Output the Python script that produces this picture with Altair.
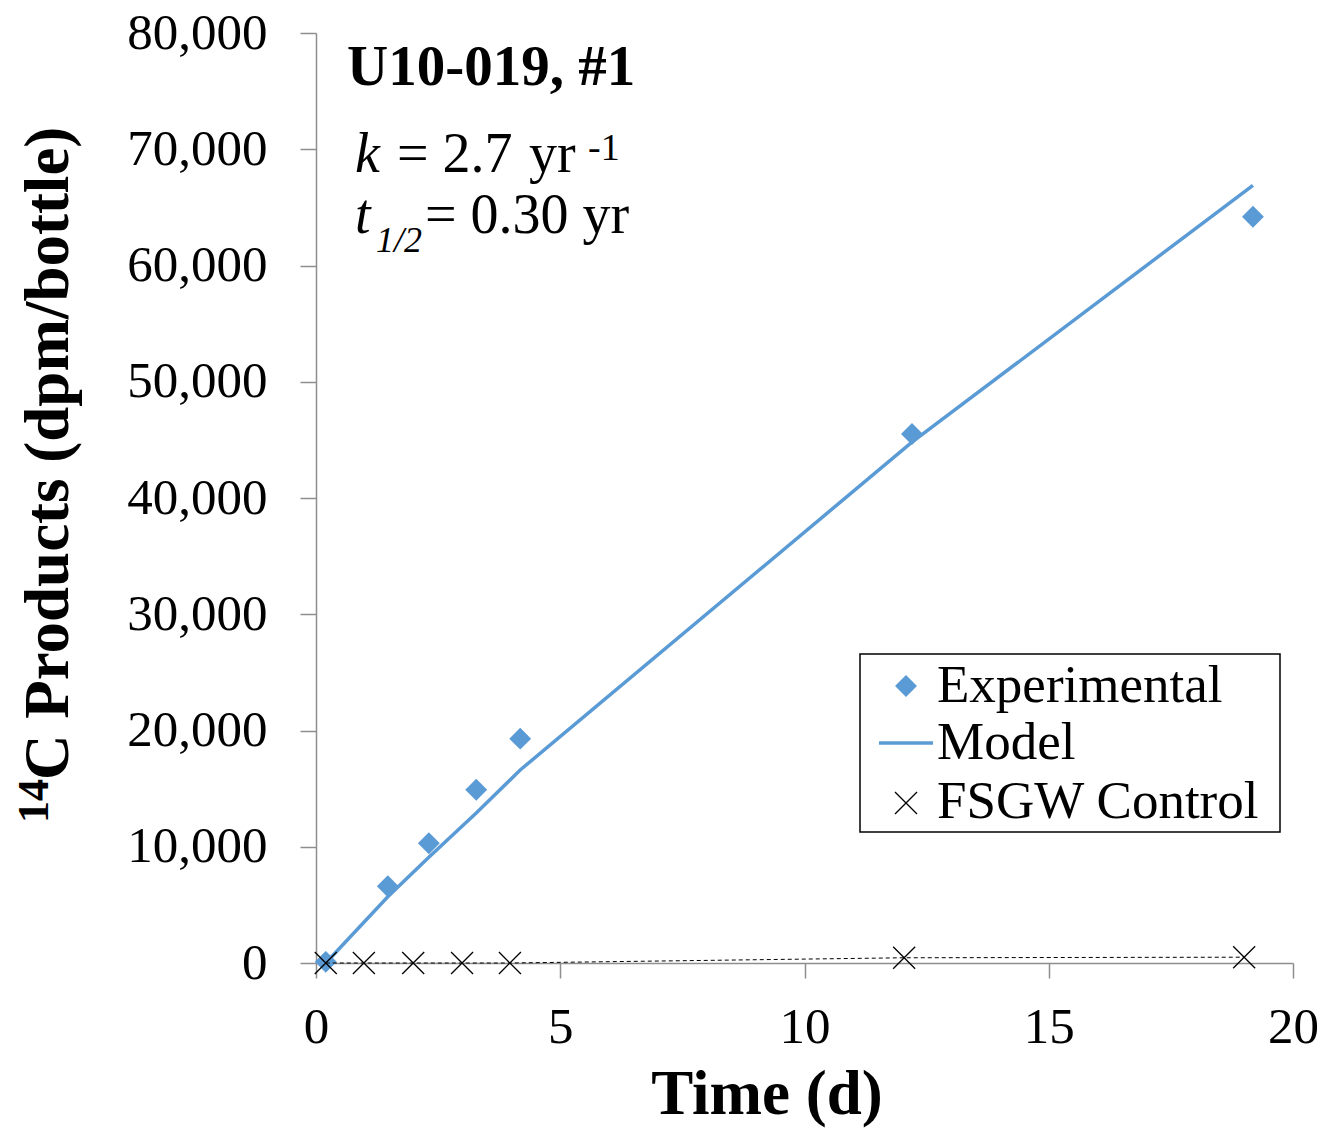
import altair as alt
import pandas as pd

# Sampling times (d) and measured 14C products (dpm/bottle)
exp_time = [0.2, 1.47, 2.31, 3.28, 4.18, 12.2, 19.18]
exp_dpm = [100, 6600, 10300, 14900, 19300, 45500, 64200]

# First-order model evaluated at the sampling times
model_time = [0.2, 1.47, 2.31, 3.28, 4.18, 12.2, 19.18]
model_dpm = [0, 5700, 9100, 12900, 16600, 44800, 66900]

# Filter-sterilized groundwater control
ctrl_time = [0.2, 0.98, 1.99, 2.99, 3.97, 12.04, 19.0]
ctrl_dpm = [0, 0, 0, 0, 0, 450, 500]

x_ticks = [0, 5, 10, 15, 20]
y_ticks = [0, 10000, 20000, 30000, 40000, 50000, 60000, 70000, 80000]

BLUE = "#5B9BD5"
AXIS_GRAY = "#8E8E8E"
SERIF = "Liberation Serif"
W, H = 977, 930

exp_df = pd.DataFrame({"t": exp_time, "v": exp_dpm})
model_df = pd.DataFrame({"t": model_time, "v": model_dpm})
ctrl_df = pd.DataFrame({"t": ctrl_time, "v": ctrl_dpm})
one = pd.DataFrame({"k": [0]})

xs = alt.Scale(domain=[0, 20], nice=False, zero=False)
ys = alt.Scale(domain=[0, 80000], nice=False)

x_axis = alt.Axis(values=x_ticks, format="d", title=None, grid=False,
                  domainColor=AXIS_GRAY, domainWidth=1.5, tickColor=AXIS_GRAY,
                  tickWidth=1.5, tickSize=15, labelFont=SERIF, labelFontSize=51,
                  labelColor="black", labelPadding=24, labelFlush=False)
y_axis = alt.Axis(values=y_ticks, format=",d", title=None, grid=False,
                  domainColor=AXIS_GRAY, domainWidth=1.5, tickColor=AXIS_GRAY,
                  tickWidth=1.5, tickSize=16, labelFont=SERIF, labelFontSize=51,
                  labelColor="black", labelPadding=33, labelFlush=False)

X = alt.X("t:Q", scale=xs, axis=x_axis)
Y = alt.Y("v:Q", scale=ys, axis=y_axis)

diamonds = alt.Chart(exp_df).mark_point(
    shape="diamond", filled=True, size=480, color=BLUE, opacity=1
).encode(x=X, y=Y)

model = alt.Chart(model_df).mark_line(color=BLUE, strokeWidth=3.5).encode(x=X, y=Y)

ctrl_line = alt.Chart(ctrl_df).mark_line(
    color="black", strokeWidth=1, strokeDash=[4, 3]
).encode(x=X, y=Y)

XSHAPE = "M-1,-1L1,1M-1,1L1,-1"
ctrl_pts = alt.Chart(ctrl_df).mark_point(
    shape=XSHAPE, filled=False, size=484, color="black", strokeWidth=1.3, opacity=1
).encode(x=X, y=Y)


def label(text, x, y, size, weight="normal", style="normal", angle=0, align="left"):
    return alt.Chart(one).mark_text(
        text=text, font=SERIF, fontSize=size, fontWeight=weight, fontStyle=style,
        angle=angle, align=align, baseline="alphabetic", color="black"
    ).encode(x=alt.value(x), y=alt.value(y))


# Legend box with its three entries
legend_box = alt.Chart(one).mark_rect(
    fill="white", stroke="black", strokeWidth=1.5
).encode(x=alt.value(544), x2=alt.value(964), y=alt.value(621), y2=alt.value(799))
leg_diamond = alt.Chart(one).mark_point(
    shape="diamond", filled=True, size=480, color=BLUE, opacity=1
).encode(x=alt.value(590), y=alt.value(653))
leg_line = alt.Chart(one).mark_rule(color=BLUE, strokeWidth=3.5).encode(
    x=alt.value(563), x2=alt.value(617), y=alt.value(710))
leg_cross = alt.Chart(one).mark_point(
    shape=XSHAPE, filled=False, size=484, color="black", strokeWidth=1.3, opacity=1
).encode(x=alt.value(590), y=alt.value(770))
leg_texts = [
    label("Experimental", 621, 669, 53),
    label("Model", 621, 726, 53),
    label("FSGW Control", 621, 785, 53),
]

# Sample name and rate constants
notes = [
    label("U10-019, #1", 31, 52, 57, weight="bold"),
    label("k", 39, 139, 56, style="italic"),
    label("= 2.7", 81, 139, 56),
    label("yr", 213, 139, 56),
    label("-1", 272, 127, 38),
    label("t", 39, 200, 56, style="italic"),
    label("1/2", 60, 219, 36, style="italic"),
    label("= 0.30 yr", 109, 200, 56),
]

# Axis titles
titles = [
    label("Time (d)", 451, 1081, 63, weight="bold", align="center"),
    label("C Products (dpm/bottle)", -248, 747, 63, weight="bold", angle=270),
    label("14", -268, 790, 44, weight="bold", angle=270),
]

chart = alt.layer(
    diamonds, model, ctrl_line, ctrl_pts,
    legend_box, leg_diamond, leg_line, leg_cross, *leg_texts,
    *notes, *titles,
).properties(
    width=W, height=H,
    autosize=alt.AutoSizeParams(type="none"),
    padding={"left": 316, "top": 33, "right": 34, "bottom": 165},
    background="white",
).configure_view(stroke=None)

chart.save("out.html", embed_options={"renderer": "svg", "actions": False})
